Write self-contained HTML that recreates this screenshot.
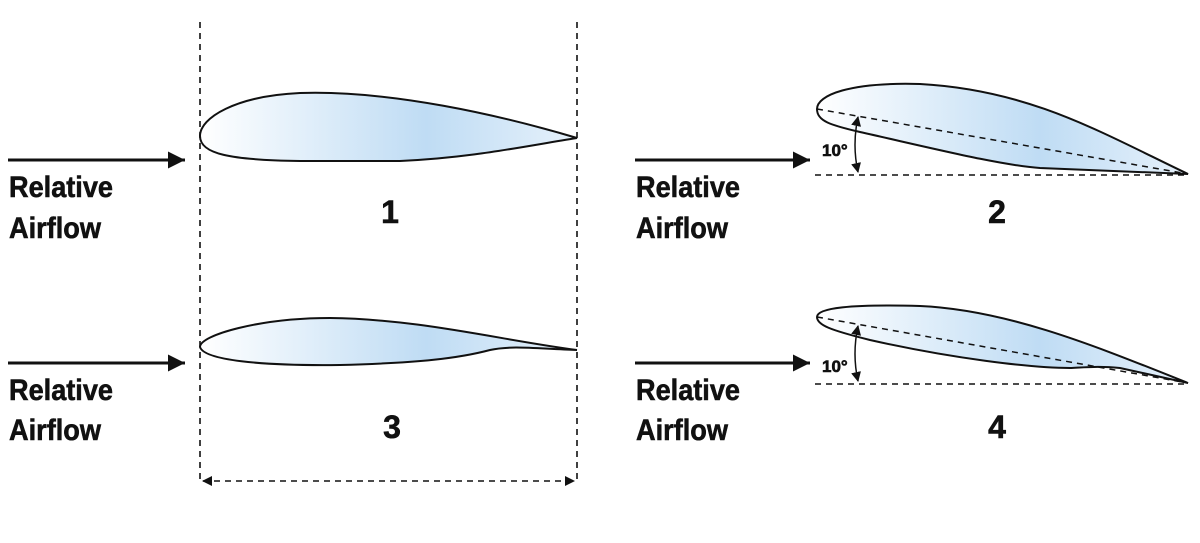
<!DOCTYPE html>
<html><head><meta charset="utf-8"><style>
html,body{margin:0;padding:0;background:#fff;}
svg{display:block;}
text{font-family:"Liberation Sans Narrow","Liberation Sans",sans-serif;font-weight:bold;fill:#111;stroke:#111;stroke-width:0.6;}
</style></head><body>
<svg width="1200" height="543" viewBox="0 0 1200 543">
<defs>
<linearGradient id="g" x1="0" x2="1" y1="0" y2="0">
<stop offset="0" stop-color="#ffffff"/><stop offset="0.6" stop-color="#bfdcf4"/><stop offset="1" stop-color="#e6f1fb"/>
</linearGradient>
<marker id="ah" viewBox="0 0 10 10" refX="9" refY="5" markerWidth="10" markerHeight="10" markerUnits="userSpaceOnUse" orient="auto-start-reverse"><path d="M0,0 L10,5 L0,10 Z" fill="#111"/></marker>
<marker id="big" viewBox="0 0 10 10" refX="10" refY="5" markerWidth="17" markerHeight="17" markerUnits="userSpaceOnUse" orient="auto"><path d="M0,0 L10,5 L0,10 Z" fill="#111"/></marker>
</defs>
<g stroke="#111" stroke-width="1.6" stroke-dasharray="6,5" fill="none">
<line x1="200" y1="22" x2="200" y2="484"/>
<line x1="577" y1="22" x2="577" y2="484"/>
<line x1="203" y1="481" x2="574" y2="481" marker-start="url(#ah)" marker-end="url(#ah)"/>
</g>
<g stroke="#111" stroke-width="2" fill="url(#g)">
<path d="M577,138 C500,115 390,90 300,93 C235,96 200,118 200,136 C200,154 230,160 300,161 L400,161 C470,158 520,147 577,138 Z"/>
<path d="M577,350 C500,340 420,319 330,318 C260,318 200,335 200,347 C204,360 260,366 340,365 C420,363 460,358 490,350 C512,345 540,349 577,350 Z"/>
<path d="M1188,174 C1100,132 1030,90 920,84 C850,82 817,95 817,109 C817,121 830,125 860,132 C940,150 1000,165 1040,168 L1188,174 Z"/>
<path d="M1188,383 C1100,348 1010,310 920,306 C850,304 817,308 817,317 C817,325 830,330 870,340 C950,358 1030,368 1070,368 C1090,367 1100,366 1120,368 L1188,383 Z"/>
</g>
<g stroke="#111" stroke-width="1.5" stroke-dasharray="6,5" fill="none">
<line x1="817" y1="109" x2="1188" y2="174"/>
<line x1="815" y1="175" x2="1188" y2="175"/>
<line x1="817" y1="317" x2="1188" y2="383"/>
<line x1="815" y1="384" x2="1188" y2="384"/>
</g>
<g stroke="#111" stroke-width="1.5" fill="none">
<path d="M858,117 Q852,145 858,172" marker-start="url(#ah)" marker-end="url(#ah)"/>
<path d="M858,326 Q852,354 858,381" marker-start="url(#ah)" marker-end="url(#ah)"/>
</g>
<g stroke="#111" stroke-width="3">
<line x1="8" y1="160" x2="185" y2="160" marker-end="url(#big)"/>
<line x1="8" y1="363" x2="185" y2="363" marker-end="url(#big)"/>
<line x1="635" y1="160" x2="810" y2="160" marker-end="url(#big)"/>
<line x1="635" y1="363" x2="810" y2="363" marker-end="url(#big)"/>
</g>
<g font-size="30">
<text x="9" y="197" textLength="104" lengthAdjust="spacingAndGlyphs">Relative</text>
<text x="9" y="238" textLength="92" lengthAdjust="spacingAndGlyphs">Airflow</text>
<text x="9" y="400" textLength="104" lengthAdjust="spacingAndGlyphs">Relative</text>
<text x="9" y="440" textLength="92" lengthAdjust="spacingAndGlyphs">Airflow</text>
<text x="636" y="197" textLength="104" lengthAdjust="spacingAndGlyphs">Relative</text>
<text x="636" y="238" textLength="92" lengthAdjust="spacingAndGlyphs">Airflow</text>
<text x="636" y="400" textLength="104" lengthAdjust="spacingAndGlyphs">Relative</text>
<text x="636" y="440" textLength="92" lengthAdjust="spacingAndGlyphs">Airflow</text>
</g>
<g font-size="32">
<text x="390" y="223" text-anchor="middle">1</text>
<text x="997" y="223" text-anchor="middle">2</text>
<text x="392" y="438" text-anchor="middle">3</text>
<text x="997" y="438" text-anchor="middle">4</text>
</g>
<g font-size="17">
<text x="822" y="156">10°</text>
<text x="822" y="372">10°</text>
</g>
</svg>
</body></html>
